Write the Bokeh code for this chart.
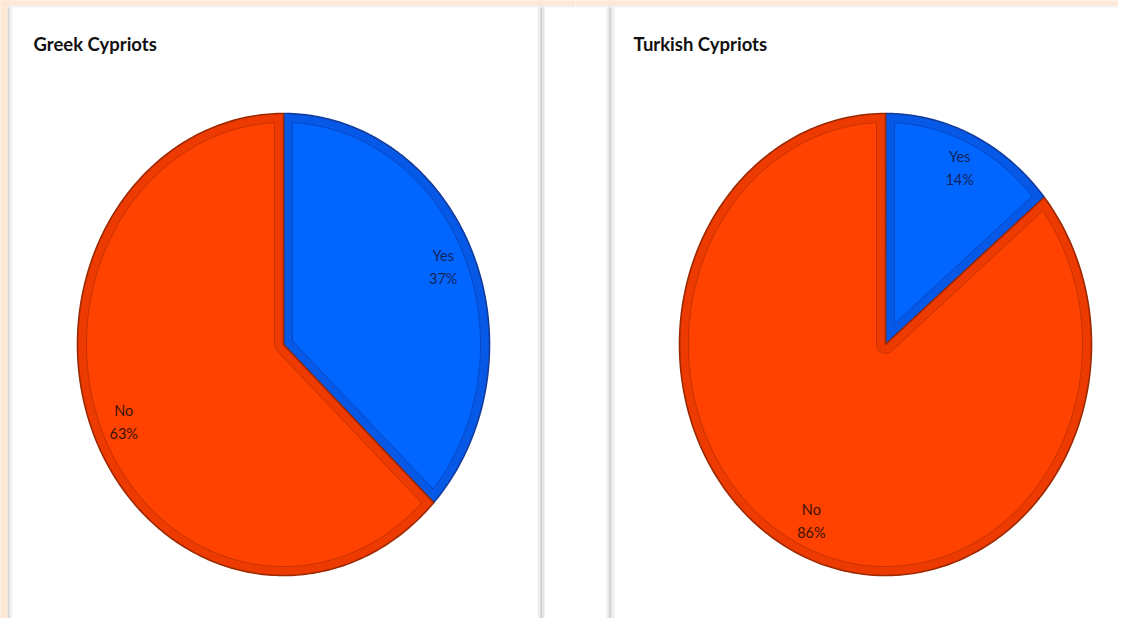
import numpy as np
from bokeh.plotting import figure
from bokeh.layouts import row
from bokeh.models import Range1d
from bokeh.core.properties import value
from bokeh.embed import file_html
from bokeh.resources import INLINE

# ---------------- data ----------------
titles = ["Greek Cypriots", "Turkish Cypriots"]
categories = ["Yes", "No"]
greek_values = [37, 63]
turkish_values = [14, 86]

# ---------------- styles ----------------
FILL = {"Yes": "#0066ff", "No": "#ff4200"}
BAND = {"Yes": "#0658e6", "No": "#ec3a00"}
EDGE = {"Yes": "#143c9c", "No": "#9c2800"}
SEAM = {"Yes": "#0a3fb0", "No": "#b52d00"}
TEXT = {"Yes": "#16235a", "No": "#3a1206"}
FONT = "Lato"
PEACH = "#fde8d6"

H = 618
RX, RY = 206.0, 231.0
BEVEL = 9.0


def wedge_px(t1, t2, rx, ry, d, n=260):
    """Polygon (pixel units, y up, apex at origin) of an elliptical wedge
    running clockwise from parametric angle t1 to t2, inset by d pixels."""
    if d == 0:
        ts = np.linspace(t1, t2, n)
        xs = np.concatenate([[0.0], rx * np.cos(ts)])
        ys = np.concatenate([[0.0], ry * np.sin(ts)])
        return xs, ys
    a1 = np.arctan2(ry * np.sin(t1), rx * np.cos(t1))
    a2 = np.arctan2(ry * np.sin(t2), rx * np.cos(t2))
    pspan = (a1 - a2) % (2 * np.pi)
    u1 = np.array([np.cos(a1), np.sin(a1)])
    n1 = np.array([np.cos(a1 - np.pi / 2), np.sin(a1 - np.pi / 2)])
    u2 = np.array([np.cos(a2), np.sin(a2)])
    n2 = np.array([np.cos(a2 + np.pi / 2), np.sin(a2 + np.pi / 2)])
    erx, ery = rx - d, ry - d

    def hit(u, nrm, tref):
        A = (u[0] / erx) ** 2 + (u[1] / ery) ** 2
        B = 2 * (d * nrm[0] * u[0] / erx ** 2 + d * nrm[1] * u[1] / ery ** 2)
        C = (d * nrm[0] / erx) ** 2 + (d * nrm[1] / ery) ** 2 - 1
        t = (-B + np.sqrt(B * B - 4 * A * C)) / (2 * A)
        P = t * u + d * nrm
        ph = np.arctan2(P[1] / ery, P[0] / erx)
        return tref + ((ph - tref + np.pi) % (2 * np.pi) - np.pi)

    p1 = hit(u1, n1, t1)
    p2 = hit(u2, n2, t2)
    ts = np.linspace(p1, p2, n)
    ax, ay = erx * np.cos(ts), ery * np.sin(ts)
    if pspan < np.pi:
        h = d / np.sin(pspan / 2)
        bis = a1 - pspan / 2
        xs = np.concatenate([[h * np.cos(bis)], ax])
        ys = np.concatenate([[h * np.sin(bis)], ay])
    else:
        ang = np.linspace(a2 + np.pi / 2, a2 + np.pi / 2 + (pspan - np.pi), 30)
        xs = np.concatenate([d * np.cos(ang), ax])
        ys = np.concatenate([d * np.sin(ang), ay])
    return xs, ys


def make_panel(title, vals, W, cx, cy, shadows, title_px, explode, left_peach):
    p = figure(width=W, height=H,
               x_range=Range1d(-cx / RX, (W - cx) / RX),
               y_range=Range1d(-(H - cy) / RY, cy / RY),
               output_backend="svg", toolbar_location=None,
               x_axis_location=None, y_axis_location=None,
               min_border=0, outline_line_color=None,
               background_fill_color="white", border_fill_color="white")
    p.grid.visible = False

    def tx(px):
        return (px - cx) / RX

    def ty(py):
        return (cy - py) / RY

    # panel shadows
    for x0, x1, col in shadows:
        p.quad(left=[tx(x0)], right=[tx(x1)], top=[ty(-20)], bottom=[ty(H + 20)],
               fill_color=col, line_color=None)
    # faint top edge of the panels
    p.quad(left=[tx(-20)], right=[tx(W + 20)], top=[ty(5)], bottom=[ty(7)],
           fill_color="#f1f1f1", line_color=None)
    # peach page background strips
    p.quad(left=[tx(-20)], right=[tx(W + 20)], top=[ty(-20)], bottom=[ty(5)],
           fill_color=PEACH, line_color=None)
    if left_peach:
        p.quad(left=[tx(-20)], right=[tx(7)], top=[ty(-20)], bottom=[ty(H + 20)],
               fill_color=PEACH, line_color=None)

    p.text(x=[tx(title_px[0])], y=[ty(title_px[1])], text=[title],
           text_font=value(FONT), text_font_style="bold",
           text_font_size="18.5px", text_color="#111111",
           text_align="left", text_baseline="alphabetic")

    total = float(sum(vals))
    start = np.pi / 2
    for cat, v in zip(categories, vals):
        span = 2 * np.pi * v / total
        t1, t2 = start, start - span
        mid = (t1 + t2) / 2
        ex = explode.get(cat, 0.0)
        ox = ex * np.cos(mid)
        oy = ex * np.sin(mid)
        xo, yo = wedge_px(t1, t2, RX, RY, 0)
        xi, yi = wedge_px(t1, t2, RX, RY, BEVEL)
        p.patch(xo / RX + ox, yo / RY + oy, fill_color=BAND[cat],
                line_color=EDGE[cat], line_width=1.6)
        p.patch(xi / RX + ox, yi / RY + oy, fill_color=FILL[cat],
                line_color=SEAM[cat], line_width=1.0, line_alpha=0.7)
        lx = 0.845 * np.cos(mid) + ox
        ly = 0.845 * np.sin(mid) + oy
        p.text(x=[lx], y=[ly], text=[cat], text_font=value(FONT),
               text_font_size="14.5px", text_color=TEXT[cat],
               text_align="center", text_baseline="middle", y_offset=-11.5)
        p.text(x=[lx], y=[ly], text=["%d%%" % v], text_font=value(FONT),
               text_font_size="14.5px", text_color=TEXT[cat],
               text_align="center", text_baseline="middle", y_offset=11.5)
        start = t2
    return p


left_shadows = [(7, 8.5, "#d6d6d6"), (8.5, 10, "#e4e4e4"), (10, 12, "#f3f3f3"),
                (537, 539, "#f1f1f1"), (539, 540.5, "#dedede"),
                (540.5, 542, "#cdcdcd"), (542, 544, "#e6e6e6")]
right_shadows = [(31, 33, "#eeeeee"), (33, 34.5, "#d8d8d8"),
                 (34.5, 36, "#d0d0d0"), (36, 39, "#eeeeee")]

p1 = make_panel(titles[0], greek_values, 575, 283.0, 344.0,
                left_shadows, (33, 43), {}, True)
p2 = make_panel(titles[1], turkish_values, 543, 310.0, 344.0,
                right_shadows, (58, 43), {}, False)

layout = row(p1, p2)
open("out.html", "w").write(file_html(layout, INLINE))
